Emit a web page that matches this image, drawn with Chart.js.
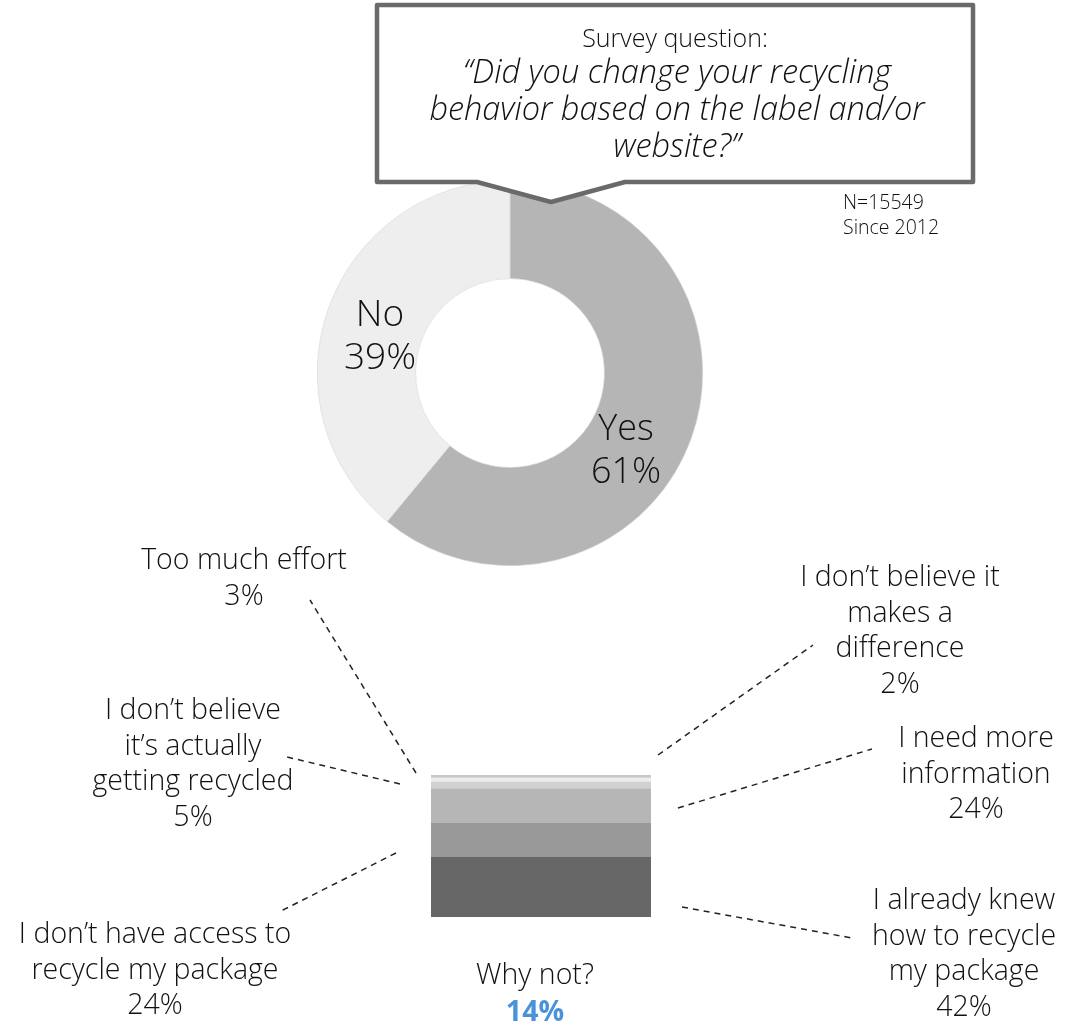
<!DOCTYPE html>
<html>
<head>
<meta charset="utf-8">
<script src="https://cdn.jsdelivr.net/npm/chart.js@4/dist/chart.umd.min.js"></script>
<style>
  html, body { margin: 0; padding: 0; background: #fff; }
  #stage { position: relative; width: 1071px; height: 1025px; overflow: hidden; font-family: "Open Sans", "DejaVu Sans", sans-serif; font-weight: 300; color: #111; }
  canvas { position: absolute; left: 0; top: 0; }
  svg { position: absolute; left: 0; top: 0; }
  .lbl { position: absolute; text-align: center; white-space: nowrap; }
</style>
</head>
<body>
<div id="stage">
  <canvas id="donut" width="1071" height="1025"></canvas>
  <canvas id="bar" width="1071" height="1025"></canvas>
  <svg id="callout" width="1071" height="1025"></svg>
</div>
<script>
// Survey answers: "Did you change your recycling behavior..."
const answerLabels = ['Yes', 'No'];
const answerValues = [61, 39];
const answerColors = ['#b5b5b5', '#eeeeee'];

// Reasons given by those who answered "No", stacked bottom to top
const reasonLabels = [
  ['I already knew', 'how to recycle', 'my package'],
  ['I don\u2019t have access to', 'recycle my package'],
  ['I need more', 'information'],
  ['I don\u2019t believe', 'it\u2019s actually', 'getting recycled'],
  ['Too much effort'],
  ['I don\u2019t believe it', 'makes a', 'difference']
];
const reasonValues = [42, 24, 24, 5, 3, 2];
const reasonColors = ['#676767', '#999999', '#b6b6b6', '#d0d0d0', '#ececec', '#c6c6c6'];

const whyNotTitle = 'Why not?';
const whyNotShare = 14;

const questionIntro = 'Survey question:';
const questionLines = ['\u201cDid you change your recycling', 'behavior based on the label and/or', 'website?\u201d'];
const sampleNote = ['N=15549', 'Since 2012'];

// Layout: label anchors (centre x, first baseline) and leader lines
const reasonLabelPos = [
  { cx: 964, y: 910 },
  { cx: 155, y: 944 },
  { cx: 976, y: 748 },
  { cx: 193, y: 720 },
  { cx: 244, y: 570 },
  { cx: 900, y: 587 }
];
const leaderLines = [
  [682, 907, 852, 938],
  [396, 853, 279, 912],
  [678, 808, 872, 749],
  [400, 784, 283, 756],
  [416, 773, 310, 600],
  [658, 755, 813, 645]
];

Chart.defaults.font.family = '"Open Sans", sans-serif';

// Doughnut: Yes / No
new Chart(document.getElementById('donut'), {
  type: 'doughnut',
  data: {
    labels: answerLabels,
    datasets: [{
      data: answerValues,
      backgroundColor: answerColors,
      borderColor: '#d6d6d6',
      borderWidth: 0.6
    }]
  },
  options: {
    responsive: false,
    animation: false,
    devicePixelRatio: 1,
    cutout: '49%',
    layout: { padding: { left: 317, right: 368, top: 180, bottom: 459 } },
    plugins: { legend: { display: false }, tooltip: { enabled: false } }
  }
});

// Dashed leader lines linking the stacked bar to its labels
const leaderPlugin = {
  id: 'leaders',
  afterDatasetsDraw(chart) {
    const ctx = chart.ctx;
    ctx.save();
    ctx.strokeStyle = '#222';
    ctx.lineWidth = 1.5;
    ctx.setLineDash([6, 5]);
    leaderLines.forEach(l => {
      ctx.beginPath();
      ctx.moveTo(l[0], l[1]);
      ctx.lineTo(l[2], l[3]);
      ctx.stroke();
    });
    ctx.restore();
  }
};

// Stacked bar: reasons for "No"
new Chart(document.getElementById('bar'), {
  type: 'bar',
  data: {
    labels: [whyNotTitle],
    datasets: reasonValues.map((v, i) => ({
      label: reasonLabels[i].join(' '),
      data: [v],
      backgroundColor: reasonColors[i],
      borderWidth: 0,
      barPercentage: 1,
      categoryPercentage: 1
    }))
  },
  options: {
    responsive: false,
    animation: false,
    devicePixelRatio: 1,
    layout: { padding: { left: 431, right: 420, top: 775, bottom: 108 } },
    scales: {
      x: { stacked: true, display: false },
      y: { stacked: true, display: false, min: 0, max: 100 }
    },
    plugins: { legend: { display: false }, tooltip: { enabled: false } }
  },
  plugins: [leaderPlugin]
});

// Speech-bubble callout with the survey question
const svgNS = 'http://www.w3.org/2000/svg';
const bubble = document.createElementNS(svgNS, 'path');
bubble.setAttribute('d', 'M377,5 H973 V182 H625 L551,202 L477,182 H377 Z');
bubble.setAttribute('fill', '#fff');
bubble.setAttribute('stroke', '#6a6a6a');
bubble.setAttribute('stroke-width', '4.5');
bubble.setAttribute('stroke-linejoin', 'round');
document.getElementById('callout').appendChild(bubble);

// Text helper: lines centred on cx, first baseline at y
const stage = document.getElementById('stage');
function addText(lines, cx, y, size, lh, opts) {
  opts = opts || {};
  const d = document.createElement('div');
  d.className = 'lbl';
  d.style.fontSize = size + 'px';
  d.style.lineHeight = lh + 'px';
  const top = y - ((lh - 1.362 * size) / 2 + 1.069 * size);
  d.style.top = top + 'px';
  if (opts.left) {
    d.style.left = cx + 'px';
    d.style.textAlign = 'left';
  } else {
    d.style.left = (cx - 300) + 'px';
    d.style.width = '600px';
  }
  if (opts.italic) d.style.fontStyle = 'italic';
  lines.forEach(t => {
    const s = document.createElement('div');
    if (typeof t === 'object') {
      s.textContent = t.text;
      if (t.color) s.style.color = t.color;
      if (t.weight) s.style.fontWeight = t.weight;
    } else {
      s.textContent = t;
    }
    d.appendChild(s);
  });
  stage.appendChild(d);
}

addText([questionIntro], 675, 47, 25, 30);
addText(questionLines, 677, 83, 32.5, 37, { italic: true });
addText(sampleNote, 843, 209, 19.5, 25, { left: true });

addText([answerLabels[1], answerValues[1] + '%'], 380, 326, 37, 43);
addText([answerLabels[0], answerValues[0] + '%'], 626, 440, 36, 43);

reasonLabels.forEach((lines, i) => {
  const p = reasonLabelPos[i];
  addText(lines.concat([reasonValues[i] + '%']), p.cx, p.y, 28.5, 35.7);
});

addText([whyNotTitle, { text: whyNotShare + '%', color: '#4a93d8', weight: 700 }], 535, 985, 28.5, 37);
</script>
</body>
</html>
